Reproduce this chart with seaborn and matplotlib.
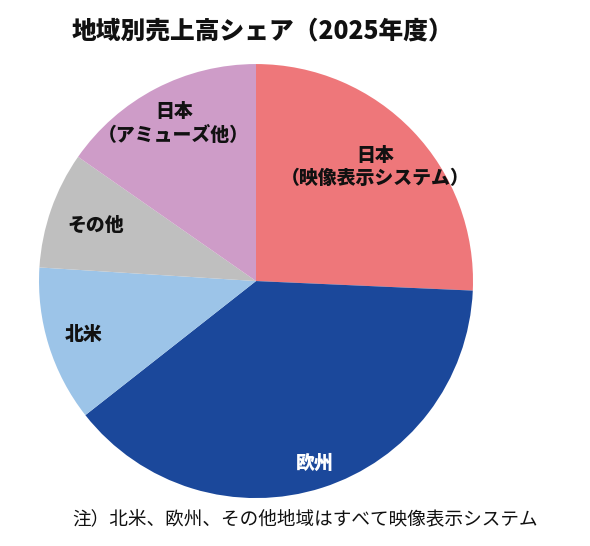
#!/usr/bin/env python3
"""Regional sales share pie chart (FY2025)."""

import numpy as np
import matplotlib
matplotlib.use("Agg")
import matplotlib.pyplot as plt
import seaborn as sns

# Data (clockwise from 12 o'clock)
regions = ["日本\n（映像表示システム）", "欧州", "北米", "その他", "日本\n（アミューズ他）"]
shares = [25.7, 38.7, 11.6, 8.7, 15.3]

colors = ["#EE777A", "#1B489B", "#9CC4E8", "#BFBFBF", "#CE9CC8"]
label_colors = ["#111111", "white", "#111111", "#111111", "#111111"]
label_radius = [0.76, 0.88, 0.83, 0.78, 0.82]

sns.set_theme(style="white")
plt.rcParams["font.family"] = ["Noto Sans CJK JP", "DejaVu Sans"]

fig = plt.figure(figsize=(5.9, 5.46), dpi=100)
ax = fig.add_axes([0.0661, 0.0878, 0.7356, 0.7949])

wedges, _ = ax.pie(shares, colors=colors, startangle=90, counterclock=False,
                   radius=1.0, wedgeprops=dict(linewidth=0))
ax.set_xlim(-1, 1)
ax.set_ylim(-1, 1)
ax.set_aspect("equal")
ax.axis("off")

# Labels at the middle angle of each wedge
for w, lab, col, r in zip(wedges, regions, label_colors, label_radius):
    mid = np.deg2rad((w.theta1 + w.theta2) / 2)
    ax.text(r * np.cos(mid), r * np.sin(mid), lab, ha="center", va="center",
            multialignment="center", fontsize=13.6, fontweight="heavy",
            color=col, linespacing=1.3)

fig.text(0.122, 0.945, "地域別売上高シェア（2025年度）", fontsize=17.8,
         fontweight="heavy", ha="left", va="center", color="#111111")
fig.text(0.122, 0.049, "注）北米、欧州、その他地域はすべて映像表示システム",
         fontsize=13.4, ha="left", va="center", color="#111111")

fig.savefig("out.png", dpi=100)
